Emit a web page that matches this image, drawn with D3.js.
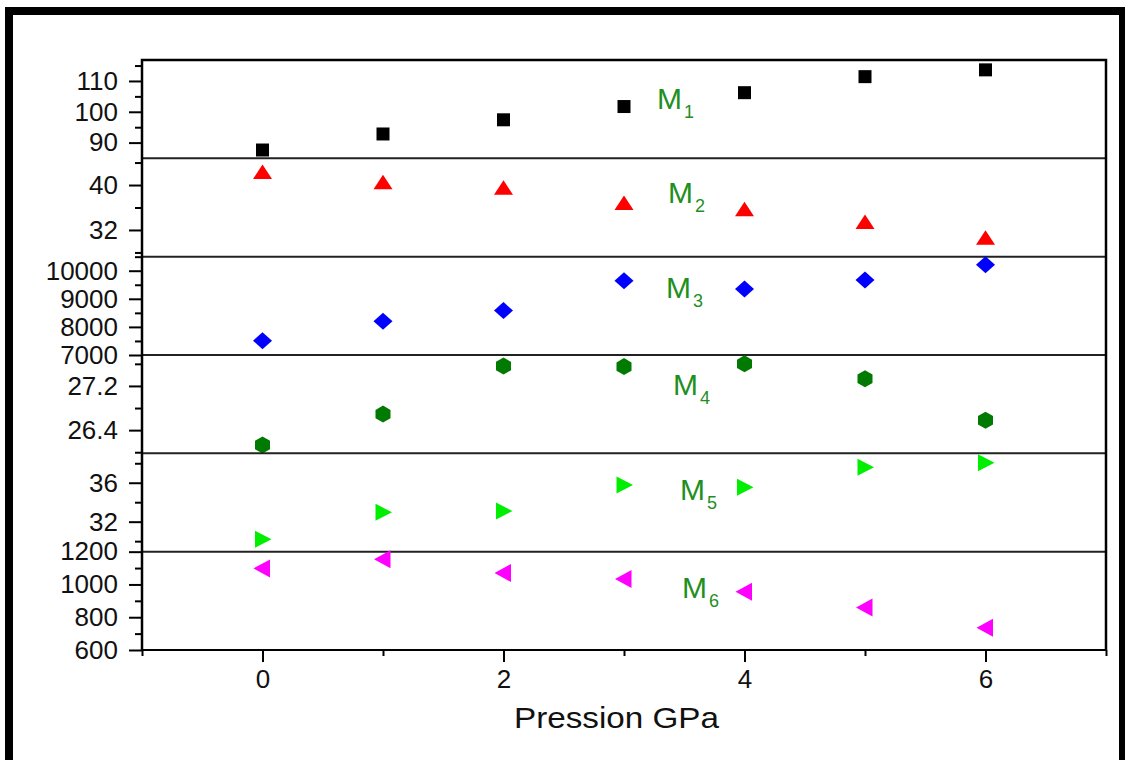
<!DOCTYPE html>
<html lang="en">
  <head>
    <meta charset="UTF-8" />
    <title>Modes vs pression</title>
    <style>
      body {
        margin: 0;
        background: #fff;
        font-family: "Liberation Sans", Arial, sans-serif;
      }
      .axis path,
      .axis line {
        stroke: #000;
        stroke-width: 2px;
      }
      .axis text {
        font-size: 26px;
        fill: #111;
      }
      .sep {
        stroke: #222;
        stroke-width: 2px;
      }
      .mlabel {
        fill: #1f8f1f;
      }
    </style>
  </head>
  <body>
    <svg width="1125" height="760"></svg>

    <script src="https://d3js.org/d3.v7.min.js"></script>
    <script>
      const pressure = [0, 1, 2, 3, 4, 5, 6];

      const m1 = [87.6, 92.8, 97.4, 101.7, 106.2, 111.4, 113.6];
      const m2 = [42.3, 40.5, 39.5, 36.8, 35.7, 33.4, 30.6];
      const m3 = [7510, 8200, 8580, 9640, 9350, 9670, 10210];
      const m4 = [26.13, 26.69, 27.56, 27.55, 27.6, 27.33, 26.58];
      const m5 = [30.2, 32.96, 33.1, 35.76, 35.53, 37.58, 38.05];
      const m6 = [1098, 1153, 1070, 1033, 955, 860, 736];

      const names = ["1", "2", "3", "4", "5", "6"];
      const domains = [
        [84.9, 116.8],
        [27.25, 44.75],
        [7000, 10500],
        [25.98, 27.76],
        [28.92, 39.02],
        [600, 1200],
      ];
      const majorTicks = [
        [90, 100, 110],
        [32, 40],
        [7000, 8000, 9000, 10000],
        [26.4, 27.2],
        [32, 36],
        [600, 800, 1000, 1200],
      ];
      const minorTicks = [
        [95, 105, 115],
        [28, 36, 44],
        [7500, 8500, 9500, 10500],
        [26.0, 26.8, 27.6],
        [30, 34, 38],
        [700, 900, 1100],
      ];
      const xMajor = [0, 2, 4, 6];
      const xMinor = [-1, 1, 3, 5, 7];

      const colors = ["#000000", "#ff0000", "#0000ff", "#007a00", "#00ee00", "#ff00ff"];
      const series = [m1, m2, m3, m4, m5, m6];

      // marker shapes
      const shapes = [
        "M-6.5,-6.5H6.5V6.5H-6.5Z",
        "M0,-7.5L9.5,7L-9.5,7Z",
        "M0,-8.5L9.5,0L0,8.5L-9.5,0Z",
        "M0,-8.5L7.5,-4.2L7.5,4.2L0,8.5L-7.5,4.2L-7.5,-4.2Z",
        "M-7.5,-8.5L9,0L-7.5,8.5Z",
        "M7.5,-9L-9,0L7.5,9Z",
      ];

      const svg = d3.select("svg");
      const plotLeft = 142,
        plotRight = 1106,
        plotTop = 60,
        plotBottom = 650;
      const panelH = (plotBottom - plotTop) / 6;

      // outer frame
      svg
        .append("rect")
        .attr("x", 9)
        .attr("y", 11)
        .attr("width", 1114)
        .attr("height", 780)
        .attr("fill", "none")
        .attr("stroke", "#000")
        .attr("stroke-width", 8);

      const x = d3.scaleLinear().domain([-1, 7]).range([plotLeft, plotRight]);

      series.forEach((vals, i) => {
        const y0 = plotTop + i * panelH;
        const y = d3.scaleLinear().domain(domains[i]).range([y0 + panelH, y0]);
        const g = svg.append("g");

        g.append("g")
          .attr("class", "axis")
          .attr("transform", `translate(${plotLeft},0)`)
          .call(d3.axisLeft(y).tickValues(minorTicks[i]).tickSize(7).tickFormat(""))
          .call((a) => a.select(".domain").remove());

        g.append("g")
          .attr("class", "axis")
          .attr("transform", `translate(${plotLeft},0)`)
          .call(
            d3
              .axisLeft(y)
              .tickValues(majorTicks[i])
              .tickSize(13)
              .tickPadding(11)
              .tickSizeOuter(0)
              .tickFormat(d3.format(""))
          )
          .call((a) => a.select(".domain").remove());

        // separator line
        if (i > 0) {
          g.append("line")
            .attr("class", "sep")
            .attr("x1", plotLeft)
            .attr("x2", plotRight)
            .attr("y1", y0)
            .attr("y2", y0);
        }

        g.selectAll("path.mark")
          .data(vals)
          .join("path")
          .attr("class", "mark")
          .attr("d", shapes[i])
          .attr("fill", colors[i])
          .attr("transform", (d, j) => `translate(${x(pressure[j])},${y(d)})`);
      });

      // frame of plot
      svg
        .append("path")
        .attr("d", `M${plotLeft},${plotBottom}V${plotTop}H${plotRight}V${plotBottom}`)
        .attr("fill", "none")
        .attr("stroke", "#000")
        .attr("stroke-width", 2.5);

      svg
        .append("g")
        .attr("class", "axis")
        .attr("transform", `translate(0,${plotBottom})`)
        .call(d3.axisBottom(x).tickValues(xMinor).tickSize(6).tickFormat(""))
        .call((a) => a.select(".domain").remove());

      svg
        .append("g")
        .attr("class", "axis")
        .attr("transform", `translate(0,${plotBottom})`)
        .call(d3.axisBottom(x).tickValues(xMajor).tickSize(12).tickPadding(8).tickSizeOuter(0))
        .call((a) => a.select(".domain").attr("d", `M${plotLeft},0H${plotRight}`));

      svg
        .append("text")
        .attr("x", 514)
        .attr("y", 728)
        .attr("font-size", 29)
        .attr("textLength", 205)
        .attr("lengthAdjust", "spacingAndGlyphs")
        .attr("fill", "#111")
        .text("Pression GPa");

      // mode labels
      const labelX = [657, 668, 666, 673, 680, 682];
      const labelOffset = [49, 45, 41, 40, 47, 46];
      names.forEach((n, i) => {
        const t = svg
          .append("text")
          .attr("class", "mlabel")
          .attr("x", labelX[i])
          .attr("y", plotTop + i * panelH + labelOffset[i])
          .attr("font-size", 30);
        t.append("tspan").text("M");
        t.append("tspan").attr("font-size", 18).attr("dx", 2).attr("dy", 9).text(n);
      });
    </script>
  </body>
</html>
